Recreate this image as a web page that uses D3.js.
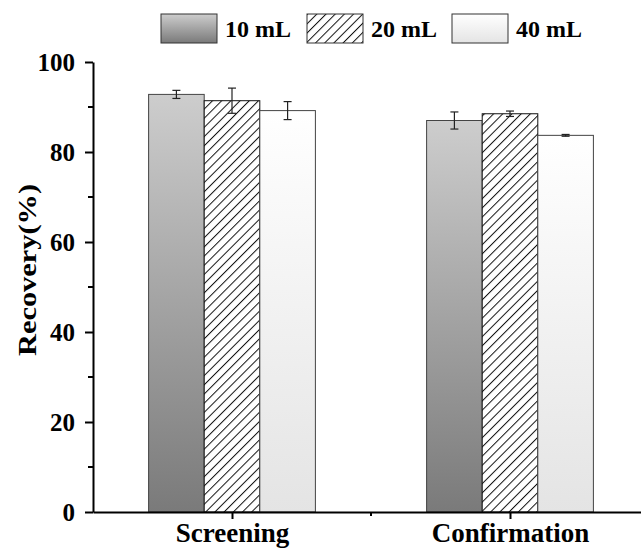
<!DOCTYPE html>
<html>
<head>
<meta charset="utf-8">
<script src="https://cdn.jsdelivr.net/npm/d3@7"></script>
<style>
  body { margin: 0; background: #fff; }
  svg { font-family: "Liberation Serif", "Times New Roman", serif; font-weight: bold; }
</style>
</head>
<body>
<div id="chart"></div>
<script>
// --- Data ---
const categories = ["Screening", "Confirmation"];
const seriesNames = ["10 mL", "20 mL", "40 mL"];
const values10 = [92.8, 87.0];
const values20 = [91.4, 88.5];
const values40 = [89.2, 83.7];
const errors10 = [0.9, 1.9];
const errors20 = [2.8, 0.6];
const errors40 = [2.0, 0.2];
const yTicks = [0, 20, 40, 60, 80, 100];

const series = [
    { name: seriesNames[0], values: values10, errors: errors10, fill: "url(#grad10)" },
    { name: seriesNames[1], values: values20, errors: errors20, fill: "url(#hatch)" },
    { name: seriesNames[2], values: values40, errors: errors40, fill: "url(#grad40)" }
];

// --- Rendering ---
const width = 641, height = 552;
const margin = { top: 62, right: -8, bottom: 40, left: 93 };

const svg = d3.select("#chart").append("svg")
    .attr("width", width)
    .attr("height", height);

const defs = svg.append("defs");

const g10 = defs.append("linearGradient").attr("id", "grad10")
    .attr("x1", 0).attr("y1", 0).attr("x2", 0).attr("y2", 1);
g10.append("stop").attr("offset", "0%").attr("stop-color", "#cdcdcd");
g10.append("stop").attr("offset", "100%").attr("stop-color", "#7a7a7a");

const g40 = defs.append("linearGradient").attr("id", "grad40")
    .attr("x1", 0).attr("y1", 0).attr("x2", 0).attr("y2", 1);
g40.append("stop").attr("offset", "0%").attr("stop-color", "#ffffff");
g40.append("stop").attr("offset", "100%").attr("stop-color", "#e4e4e4");

// diagonal hatch for 20 mL
const hatch = defs.append("pattern").attr("id", "hatch")
    .attr("patternUnits", "userSpaceOnUse")
    .attr("width", 6.5).attr("height", 6.5)
    .attr("patternTransform", "rotate(45)");
hatch.append("rect").attr("width", 6.5).attr("height", 6.5).attr("fill", "#fff");
hatch.append("line")
    .attr("x1", 0.5).attr("y1", 0).attr("x2", 0.5).attr("y2", 6.5)
    .attr("stroke", "#111").attr("stroke-width", 1);

const x = d3.scaleLinear()
    .domain([0.5, 2.5])
    .range([margin.left, width - margin.right]);

const y = d3.scaleLinear()
    .domain([0, 100])
    .range([height - margin.bottom, margin.top]);

const barW = 0.2;

// Bars
series.forEach((s, i) => {
    const off = (i - 1) * barW;
    svg.append("g").selectAll("rect")
        .data(s.values)
        .join("rect")
        .attr("x", (d, j) => x(j + 1 + off - barW / 2))
        .attr("y", d => y(d))
        .attr("width", x(barW) - x(0))
        .attr("height", d => y(0) - y(d))
        .attr("fill", s.fill)
        .attr("stroke", i === 1 ? "#111" : "#444")
        .attr("stroke-width", 1);

    // error bars
    const eb = svg.append("g").attr("stroke", "#222").attr("stroke-width", 1.2);
    s.values.forEach((v, j) => {
        const cx = x(j + 1 + off);
        const e = s.errors[j];
        eb.append("line").attr("x1", cx).attr("x2", cx).attr("y1", y(v + e)).attr("y2", y(v - e));
        eb.append("line").attr("x1", cx - 4).attr("x2", cx + 4).attr("y1", y(v + e)).attr("y2", y(v + e));
        eb.append("line").attr("x1", cx - 4).attr("x2", cx + 4).attr("y1", y(v - e)).attr("y2", y(v - e));
    });
});

// Y axis
const yAxis = svg.append("g")
    .attr("transform", `translate(${margin.left},0)`);
yAxis.call(d3.axisLeft(y).tickValues(yTicks).tickSize(8).tickSizeOuter(0).tickPadding(10))
    .call(g => g.select(".domain").attr("stroke-width", 2))
    .call(g => g.selectAll(".tick line").attr("stroke-width", 2))
    .call(g => g.selectAll("text").style("font-size", "25px").style("font-weight", "bold")
        .style("font-family", "Liberation Serif, serif").attr("fill", "#000"));
yAxis.selectAll(".minor")
    .data(d3.range(10, 100, 20))
    .join("line")
    .attr("x1", -5).attr("x2", 0)
    .attr("y1", d => y(d)).attr("y2", d => y(d))
    .attr("stroke", "#000").attr("stroke-width", 2);

// X axis
const xAxis = svg.append("g")
    .attr("transform", `translate(0,${y(0)})`);
xAxis.call(d3.axisBottom(x).tickValues([1, 2]).tickFormat((d, i) => categories[i]).tickSize(7).tickSizeOuter(0).tickPadding(4))
    .call(g => g.select(".domain").attr("stroke-width", 2))
    .call(g => g.selectAll(".tick line").attr("stroke-width", 2))
    .call(g => g.selectAll("text").style("font-size", "27px").style("font-weight", "bold")
        .style("font-family", "Liberation Serif, serif").attr("fill", "#000"));
xAxis.append("line")
    .attr("x1", x(1.5)).attr("x2", x(1.5)).attr("y1", 0).attr("y2", 4)
    .attr("stroke", "#000").attr("stroke-width", 2);

// Y axis title
svg.append("text")
    .attr("transform", "translate(36,270) rotate(-90)")
    .attr("text-anchor", "middle")
    .attr("textLength", 172)
    .attr("lengthAdjust", "spacingAndGlyphs")
    .style("font-size", "25px")
    .text("Recovery(%)");

// Legend
const legendX = [161, 307, 452];
const legend = svg.append("g");
series.forEach((s, i) => {
    const lg = legend.append("g").attr("transform", `translate(${legendX[i]},14)`);
    lg.append("rect")
        .attr("width", 56).attr("height", 29)
        .attr("fill", s.fill)
        .attr("stroke", "#333").attr("stroke-width", 1);
    lg.append("text")
        .attr("x", 64).attr("y", 23)
        .style("font-size", "24px")
        .text(s.name);
});
</script>
</body>
</html>
